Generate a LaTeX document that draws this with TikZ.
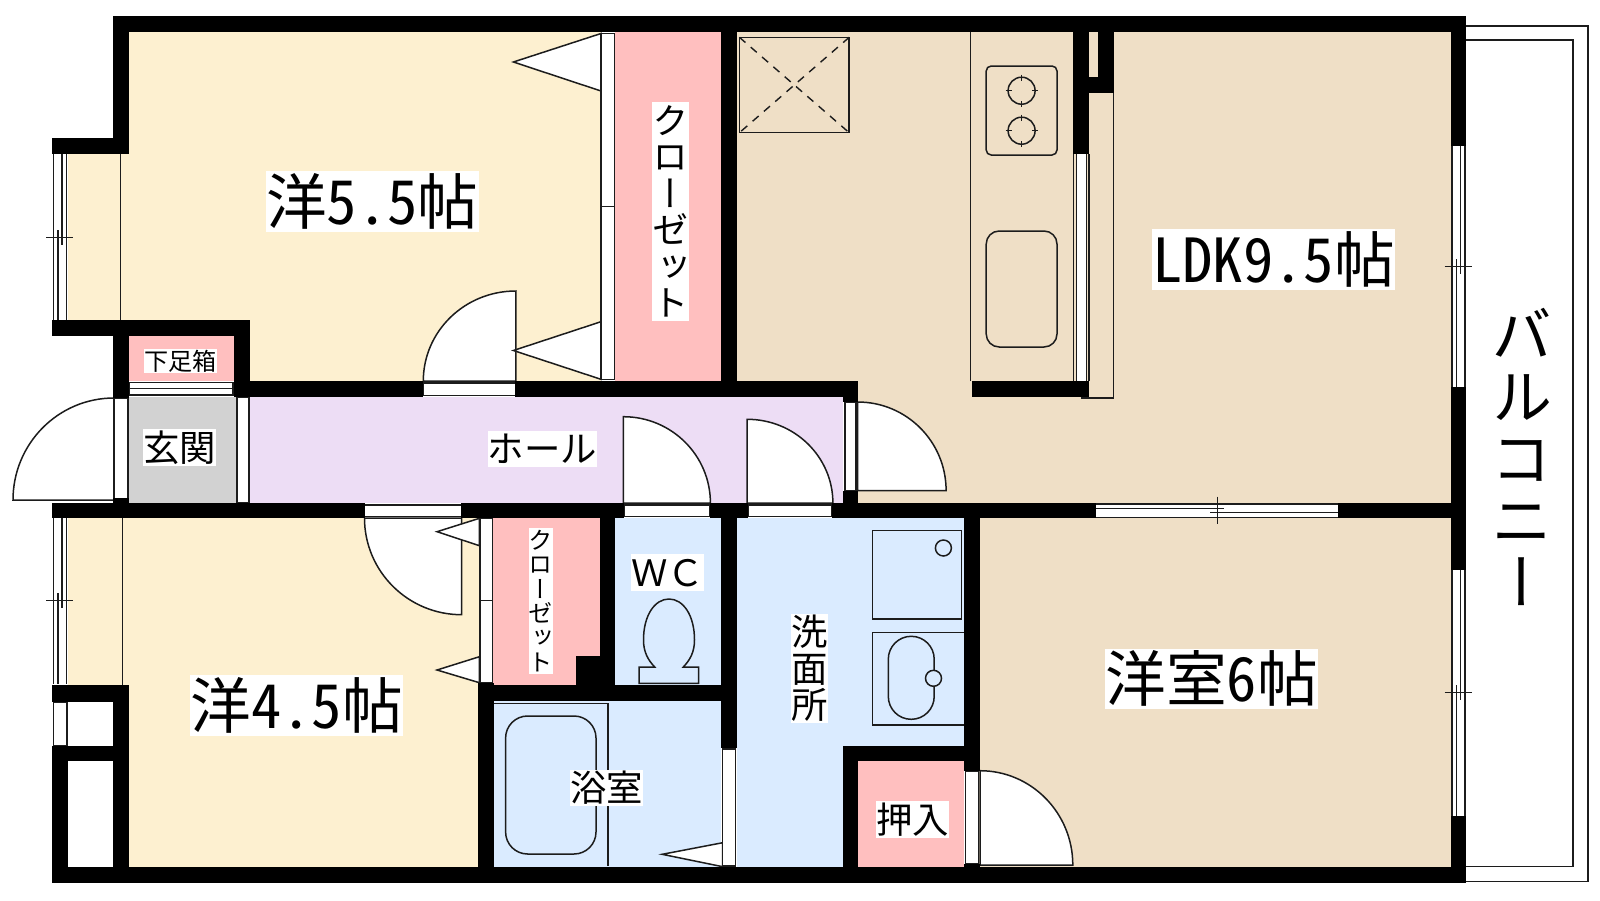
\documentclass[tikz,border=0pt]{standalone}
\usepackage{fontspec}
\newfontfamily\cjk[RawFeature=+hwid]{Noto Sans CJK JP}
\newfontfamily\cjkv[RawFeature=+vert]{Noto Sans CJK JP}
\definecolor{roomcream}{HTML}{FDF0D0}
\definecolor{roomtan}{HTML}{EFDFC6}
\definecolor{roompink}{HTML}{FFBFBF}
\definecolor{roomlilac}{HTML}{EDDDF5}
\definecolor{roomblue}{HTML}{DAEBFF}
\definecolor{roomgrey}{HTML}{D2D2D2}
\definecolor{ink}{HTML}{1C1C1C}
\tikzset{
  wallfill/.style={fill=black},
  thinline/.style={draw=ink,line width=1.4pt},
  fixture/.style={draw=ink,line width=1.5pt},
  doorleaf/.style={draw=ink,line width=1.5pt,fill=white},
  stripbox/.style={draw=ink,line width=1.5pt,fill=white},
  winline/.style={draw=ink,line width=1.5pt},
}
\newcommand\Wl[4]{\path[wallfill] (#1,#2) rectangle (#3,#4);}
\newcommand\Rm[5]{\fill[#1] (#2,#3) rectangle (#4,#5);}
\newcommand\Strip[4]{\path[stripbox] (#1,#2) rectangle (#3,#4);}
\newcommand\TriB[5]{\path[doorleaf] (#1,#2) -- (#3,#4) -- (#3,#5) -- cycle;}
\newcommand\vwin[4]{%
  \fill[white] (#1,#2) rectangle ({#1+13},#3);
  \path[winline] (#1,#2) -- (#1,#3);
  \path[winline] ({#1+13},#2) -- ({#1+13},#3);
  \path[winline] ({#1+8.6},#2) -- ({#1+8.6},{#4+7.5});
  \path[winline] ({#1+4.4},{#4-7.5}) -- ({#1+4.4},#3);
  \path[winline] ({#1-7.2},#4) -- ({#1+19.8},#4);
}
% name, x1,y1,x2,y2, em, text
\newcommand\Lb[7]{%
  \node[fill=white,inner sep=0pt,outer sep=0pt,minimum width={(#4-#2)*1pt},minimum height={(#5-#3)*1pt},
    text height={#6*0.88pt},text depth={#6*0.12pt},
    font=\cjk\fontsize{#6}{#6}\selectfont] (#1) at ({(#2+#4)/2},{(#3+#5)/2}) {#7};}
\newcommand\Lv[7]{%
  \node[fill=white,inner sep=0pt,outer sep=0pt,minimum width={(#4-#2)*1pt},minimum height={(#5-#3)*1pt},
    align=center,font=\cjkv\fontsize{#6}{#6}\selectfont] (#1) at ({(#2+#4)/2},{(#3+#5)/2}) {#7};}
\begin{document}
\begin{tikzpicture}[x=1pt,y=-1pt]
\useasboundingbox (0,0) rectangle (1600,900);
\fill[white] (0,0) rectangle (1600,900);
% balcony
\draw[thinline] (1466,26) -- (1588,26) -- (1588,881.7) -- (1466,881.7);
\draw[thinline] (1466,40) -- (1572.8,40) -- (1572.8,866.7) -- (1466,866.7);
% room fills
\Rm{roomcream}{129}{32}{601}{381}
\Rm{roomcream}{68}{154}{129}{320}
\Rm{roomcream}{68}{518}{129}{685}
\Rm{roomcream}{129}{518}{479}{867}
\Rm{roompink}{615}{32}{721}{381}
\Rm{roomtan}{737}{32}{1451}{381}
\Rm{roomtan}{850}{381}{1451}{503}
\Rm{roomtan}{975}{518}{1451}{867}
\Rm{roompink}{129}{336}{235}{381}
\Rm{roomgrey}{129}{397}{236}{503}
\Rm{roomlilac}{249}{397}{843}{503}
\Rm{roompink}{493}{518}{600}{685}
\Rm{roomblue}{615}{518}{721}{685}
\Rm{roomblue}{493}{701}{721}{867}
\Rm{roomblue}{737}{518}{964}{867}
\Rm{roompink}{858}{761}{964}{867}
% fixtures and thin lines
\draw[thinline] (120.4,154) -- (120.4,320);
\draw[thinline] (122.4,518) -- (122.4,685);
\draw[thinline] (970.6,32) -- (970.6,381);
\draw[thinline] (1113.5,88) -- (1113.5,398) -- (1081.7,398) -- (1081.7,395);
\draw[fixture] (739.4,37.3) rectangle (849.2,132.7);
\draw[thinline,dash pattern=on 8pt off 7pt] (739.4,37.3) -- (849.2,132.7);
\draw[thinline,dash pattern=on 8pt off 7pt] (849.2,37.3) -- (739.4,132.7);
\draw[fixture,rounded corners=5pt] (986.2,66) rectangle (1057,155);
\foreach \cy in {90.7,130.7} {
  \draw[fixture] (1021.6,\cy) circle[radius=13.5pt];
  \draw[fixture] (1021.6,\cy-16) -- (1021.6,\cy-10);
  \draw[fixture] (1021.6,\cy+16) -- (1021.6,\cy+10);
  \draw[fixture] (1005.6,\cy) -- (1011.6,\cy);
  \draw[fixture] (1037.6,\cy) -- (1031.6,\cy);
}
\draw[fixture,rounded corners=13pt] (986.2,231) rectangle (1057,347);
% washroom
\draw[fixture] (872.3,530.3) rectangle (961.7,619);
\draw[fixture] (943.4,548) circle[radius=8pt];
\draw[fixture] (964,632.3) -- (872.3,632.3) -- (872.3,725) -- (964,725);
\draw[fixture,rounded corners=22.9pt] (888.3,636.3) rectangle (934.2,719.3);
\draw[fixture,fill=roomblue] (933.5,678.3) circle[radius=8pt];
% toilet
\draw[fixture] (639,667) -- (654.7,667) .. controls (648,660) and (643.5,652) .. (643.5,640)
  .. controls (643.5,615) and (655,599) .. (669,599)
  .. controls (683,599) and (694.5,615) .. (694.5,640)
  .. controls (694.5,652) and (690,660) .. (683.3,667)
  -- (698.6,667) -- (698.6,683.3) -- (639,683.3) -- cycle;
% bath
\draw[fixture] (494,703.3) -- (607.8,703.3) -- (607.8,866);
\draw[fixture,rounded corners=22pt] (505.6,716) rectangle (596,854);
% doors
\path[doorleaf] (515.8,381) -- (515.8,291) arc[start angle=90,end angle=180,x radius=92.5pt,y radius=90pt] -- cycle;
\path[doorleaf] (114,500) -- (114,398) arc[start angle=90,end angle=180,x radius=101pt,y radius=102pt] -- cycle;
\path[doorleaf] (623.4,503) -- (623.4,416.7) arc[start angle=90,end angle=0,x radius=87pt,y radius=86.3pt] -- cycle;
\path[doorleaf] (747.2,503) -- (747.2,419.3) arc[start angle=90,end angle=0,x radius=85.7pt,y radius=83.7pt] -- cycle;
\path[doorleaf] (857.7,490.5) -- (857.7,402) arc[start angle=90,end angle=0,x radius=88.4pt,y radius=88.5pt] -- cycle;
\path[doorleaf] (461.7,518) -- (364.5,518) arc[start angle=180,end angle=270,x radius=97.2pt,y radius=96.7pt] -- cycle;
\path[doorleaf] (980,865) -- (980,770.7) arc[start angle=90,end angle=0,x radius=92.8pt,y radius=94.3pt] -- cycle;
% folding doors
\TriB{513.4}{62}{601}{33.5}{91}
\TriB{513.4}{350.5}{601}{321.7}{379.3}
\TriB{437}{531.7}{479.4}{518.3}{545.7}
\TriB{437}{670}{479.4}{656.7}{682.7}
\TriB{662.2}{854.3}{722.7}{842.7}{866.7}
% door strips
\Strip{601}{33.5}{614.6}{206.7}
\Strip{601}{206.7}{614.6}{379.5}
\Strip{480}{518}{492.7}{600.5}
\Strip{480}{600.5}{492.7}{683}
\Strip{722.7}{749}{735.3}{866}
\Strip{965.5}{771}{978.4}{864}
\Strip{423.3}{383}{515.4}{395.5}
\Strip{624}{505}{710}{516.7}
\Strip{748}{505}{832}{516.7}
\Strip{364.5}{505}{461.4}{516.7}
\Strip{114}{398}{128}{499}
\Strip{237}{397}{249}{503}
\Strip{844.8}{402}{856}{490.5}
\Strip{129}{382.7}{233}{395}
\path[winline] (129,388.5) -- (233,388.5);
\Strip{53.4}{702}{67}{746}
% windows
\vwin{53.4}{154}{320}{237.7}
\vwin{53.4}{518}{684}{600.7}
\vwin{1451.9}{146}{387}{266.7}
\vwin{1451.9}{570}{816}{692.7}
\fill[white] (1096,504) rectangle (1338,517.3);
\path[winline] (1096,504) -- (1338,504);
\path[winline] (1096,517.3) -- (1338,517.3);
\path[winline] (1096,508.3) -- (1224.3,508.3);
\path[winline] (1210,512.7) -- (1338,512.7);
\path[winline] (1217.3,496.7) -- (1217.3,524);
% kitchen side window
\fill[white] (1076.7,154) rectangle (1086.7,381);
\path[winline] (1073.5,154) -- (1073.5,381);
\path[winline] (1076.7,154) -- (1076.7,381);
\path[winline] (1086.7,154) -- (1086.7,381);
\path[winline] (1089,154) -- (1089,381);
% walls
\Wl{113}{16}{1466.2}{32}
\Wl{113}{16}{129}{154}
\Wl{52}{138}{129}{154}
\Wl{52}{320}{250}{336}
\Wl{113}{336}{129}{398}
\Wl{234}{320}{250}{397}
\Wl{250}{381}{423.3}{397}
\Wl{515.4}{381}{858}{397}
\Wl{842.5}{397}{858}{402}
\Wl{842.5}{490.5}{858}{503}
\Wl{721}{32}{737}{381}
\Wl{52}{503}{364.5}{518}
\Wl{113}{498}{129}{503}
\Wl{461.4}{503}{624}{518}
\Wl{710}{503}{748}{518}
\Wl{832}{503}{1096}{518}
\Wl{1338}{503}{1466}{518}
\Wl{1451}{16}{1466.2}{146}
\Wl{1451}{387}{1466.2}{570}
\Wl{1451}{816}{1466.2}{883}
\Wl{52}{867}{1466.2}{883}
\Wl{52}{685}{129}{702}
\Wl{52}{746}{129}{761}
\Wl{52}{761}{68}{867}
\Wl{113}{685}{129}{867}
\Wl{478.4}{683}{493.7}{867}
\Wl{576}{656}{600}{685}
\Wl{600}{518}{615}{685}
\Wl{493.7}{685}{737}{701}
\Wl{721}{518}{737}{748}
\Wl{964}{518}{980}{771}
\Wl{964}{864}{980}{867}
\Wl{843}{746}{980}{761}
\Wl{843}{761}{858}{867}
\Wl{972}{381}{1089.2}{397}
\Wl{1073}{32}{1089}{154}
\Wl{1098}{32}{1114}{92.7}
\Wl{1089}{76.7}{1098}{92.7}
% labels
\Lb{ldk}{1152.2}{229}{1395}{289.7}{60.7}{LDK9.5帖}
\Lb{yo55}{266.2}{171}{478.7}{231.7}{60.7}{洋5.5帖}
\Lb{yo45}{190}{675}{403.2}{735.7}{60.7}{洋4.5帖}
\Lb{yo6}{1105.2}{649}{1318}{708.7}{60.7}{洋室6帖}
\Lb{hall}{487.7}{431}{596.7}{466.7}{36.4}{ホール}
\Lb{genkan}{143}{429}{216}{465.7}{36.4}{玄関}
\Lb{getabako}{144.2}{349}{216.6}{373}{24.1}{下足箱}
\Lb{wc}{631}{554}{704}{590.7}{36.4}{\cjkv ＷＣ}
\Lb{bath}{570}{770}{642.8}{805.7}{36.4}{浴室}
\Lb{oshiire}{876}{801}{949}{837.7}{36.4}{押入}
\Lv{closeta}{652}{102}{689}{320.7}{36.4}{ク\\ロ\\ー\\ゼ\\ッ\\ト}
\Lv{closetb}{529.3}{527.7}{552.7}{674}{24.3}{ク\\ロ\\ー\\ゼ\\ッ\\ト}
\Lv{senmen}{791}{614}{828}{722.7}{36.4}{洗\\面\\所}
\node[inner sep=0pt,align=center,font=\cjkv\fontsize{61}{62}\selectfont] (balcony) at (1522,457) {バ\\ル\\コ\\ニ\\ー};
\end{tikzpicture}
\end{document}
